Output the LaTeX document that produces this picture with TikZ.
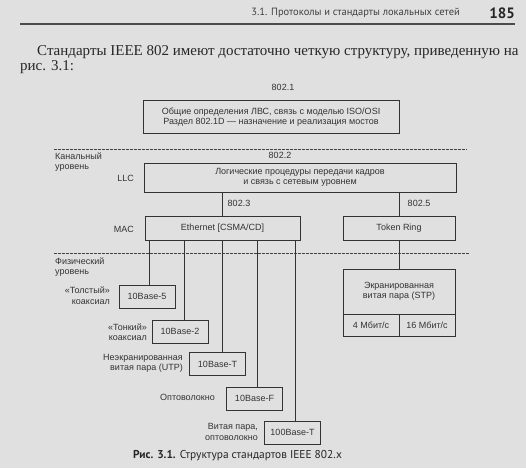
\documentclass[tikz,border=0pt]{standalone}
\usepackage{fontspec}
\setmainfont{Liberation Serif}
\newfontfamily\dfont{Liberation Sans}
\newfontfamily\hfont{PT Sans}
\begin{document}
\begin{tikzpicture}[x=1pt,y=-1pt,
  ink/.style={draw=black!80,line width=0.8pt},
  dtext/.style={font=\dfont\fontsize{9}{10.5}\selectfont,text=black!80,inner sep=0pt,align=center},
  boxn/.style={ink,dtext,minimum height=23pt},
  sep/.style={draw=black!75,line width=0.7pt,dash pattern=on 2.5pt off 1.5pt}]
\useasboundingbox (0,0) rectangle (526,468);
\fill[black!12] (0,0) rectangle (526,468);
% header
\node[font=\hfont\fontsize{10.5}{12}\selectfont,text=black!75,anchor=east,inner sep=0pt] (hdr) at (460,13) {3.1. Протоколы и стандарты локальных сетей};
\node[font=\hfont\bfseries\fontsize{15}{17}\selectfont,text=black!85,anchor=east,inner sep=0pt] (pg) at (515,13) {185};
\draw[black!70,line width=1.4pt] (20,24) -- (515,24);
% body text
\node[font=\fontsize{15}{16}\selectfont,text=black!85,anchor=west,inner sep=0pt] (t1) at (37,52) {Стандарты IEEE 802 имеют достаточно четкую структуру, приведенную на};
\node[font=\fontsize{15}{16}\selectfont,text=black!85,anchor=west,inner sep=0pt] (t2) at (20,67) {рис. 3.1:};
% top box
\node[dtext] (l1) at (283,87) {802.1};
\node[boxn,minimum width=256pt,minimum height=33pt] (gen) at (271,117) {Общие определения ЛВС, связь с моделью ISO/OSI\\Раздел 802.1D — назначение и реализация мостов};
\draw[sep] (54,149) coordinate (d1a) -- (467,149) coordinate (d1b);
\node[dtext,align=left,anchor=west] (kan) at (55,162) {Канальный\\уровень};
\node[dtext] (l2) at (280,155) {802.2};
\node[boxn,minimum width=312pt,minimum height=29pt] (llc) at (300,177.5) {Логические процедуры передачи кадров\\и связь с сетевым уровнем};
\node[dtext,anchor=east] (llct) at (134,178) {LLC};
% MAC
\node[boxn,minimum width=155pt,minimum height=24pt] (eth) at (222.5,228) {Ethernet [CSMA/CD]};
\node[boxn,minimum width=112pt,minimum height=24pt] (tr) at (399,228) {Token Ring};
\node[dtext,anchor=east] (mac) at (134,229) {MAC};
\draw[ink] (eth.north) -- (eth.north |- llc.south);
\draw[ink] (tr.north) -- (tr.north |- llc.south);
\node[dtext] (l3) at (239,203) {802.3};
\node[dtext] (l5) at (419,203) {802.5};
\draw[sep] (54,253) coordinate (d2a) -- (469,253) coordinate (d2b);
\node[dtext,align=left,anchor=west] (fiz) at (55,267) {Физический\\уровень};
% STP
\node[boxn,minimum width=112pt,minimum height=45pt] (stp) at (399,291.5) {Экранированная\\витая пара (STP)};
\node[boxn,minimum width=56pt,minimum height=22pt] (m4) at (371,325) {4 Мбит/с};
\node[boxn,minimum width=56pt,minimum height=22pt] (m16) at (427,325) {16 Мбит/с};
\draw[ink] (stp.north) -- (tr.south);
% Ethernet physical
\node[boxn,minimum width=56pt] (b5) at (147,296.5) {10Base-5};
\node[boxn,minimum width=56pt] (b2) at (180,331.5) {10Base-2};
\node[boxn,minimum width=56pt] (bt) at (217.5,364) {10Base-T};
\node[boxn,minimum width=56pt] (bf) at (254.5,398.5) {10Base-F};
\node[boxn,minimum width=56pt] (b100) at (292.5,432.5) {100Base-T};
\draw[ink] ([xshift=2pt]b5.north) -- ([xshift=2pt]b5.north |- eth.south);
\draw[ink] ([xshift=4.5pt]b2.north) -- ([xshift=4.5pt]b2.north |- eth.south);
\draw[ink] ([xshift=4.5pt]bt.north) -- ([xshift=4.5pt]bt.north |- eth.south);
\draw[ink] ([xshift=3pt]bf.north) -- ([xshift=3pt]bf.north |- eth.south);
\draw[ink] ([xshift=3pt]b100.north) -- ([xshift=3pt]b100.north |- eth.south);
\node[dtext,align=right,anchor=east] (c5) at (110,295.5) {«Толстый»\\коаксиал};
\node[dtext,align=right,anchor=east] (c2) at (147,332) {«Тонкий»\\коаксиал};
\node[dtext,align=right,anchor=east] (ct) at (183,363.5) {Неэкранированная\\витая пара (UTP)};
\node[dtext,align=right,anchor=east] (cf) at (215,397) {Оптоволокно};
\node[dtext,align=right,anchor=east] (c100) at (258,432) {Витая пара,\\оптоволокно};
% caption
\node[font=\hfont\fontsize{11.4}{13}\selectfont,text=black!85,anchor=west,inner sep=0pt] (cap) at (133,456) {\textbf{Рис. 3.1.} Структура стандартов IEEE 802.x};
\end{tikzpicture}
\end{document}
